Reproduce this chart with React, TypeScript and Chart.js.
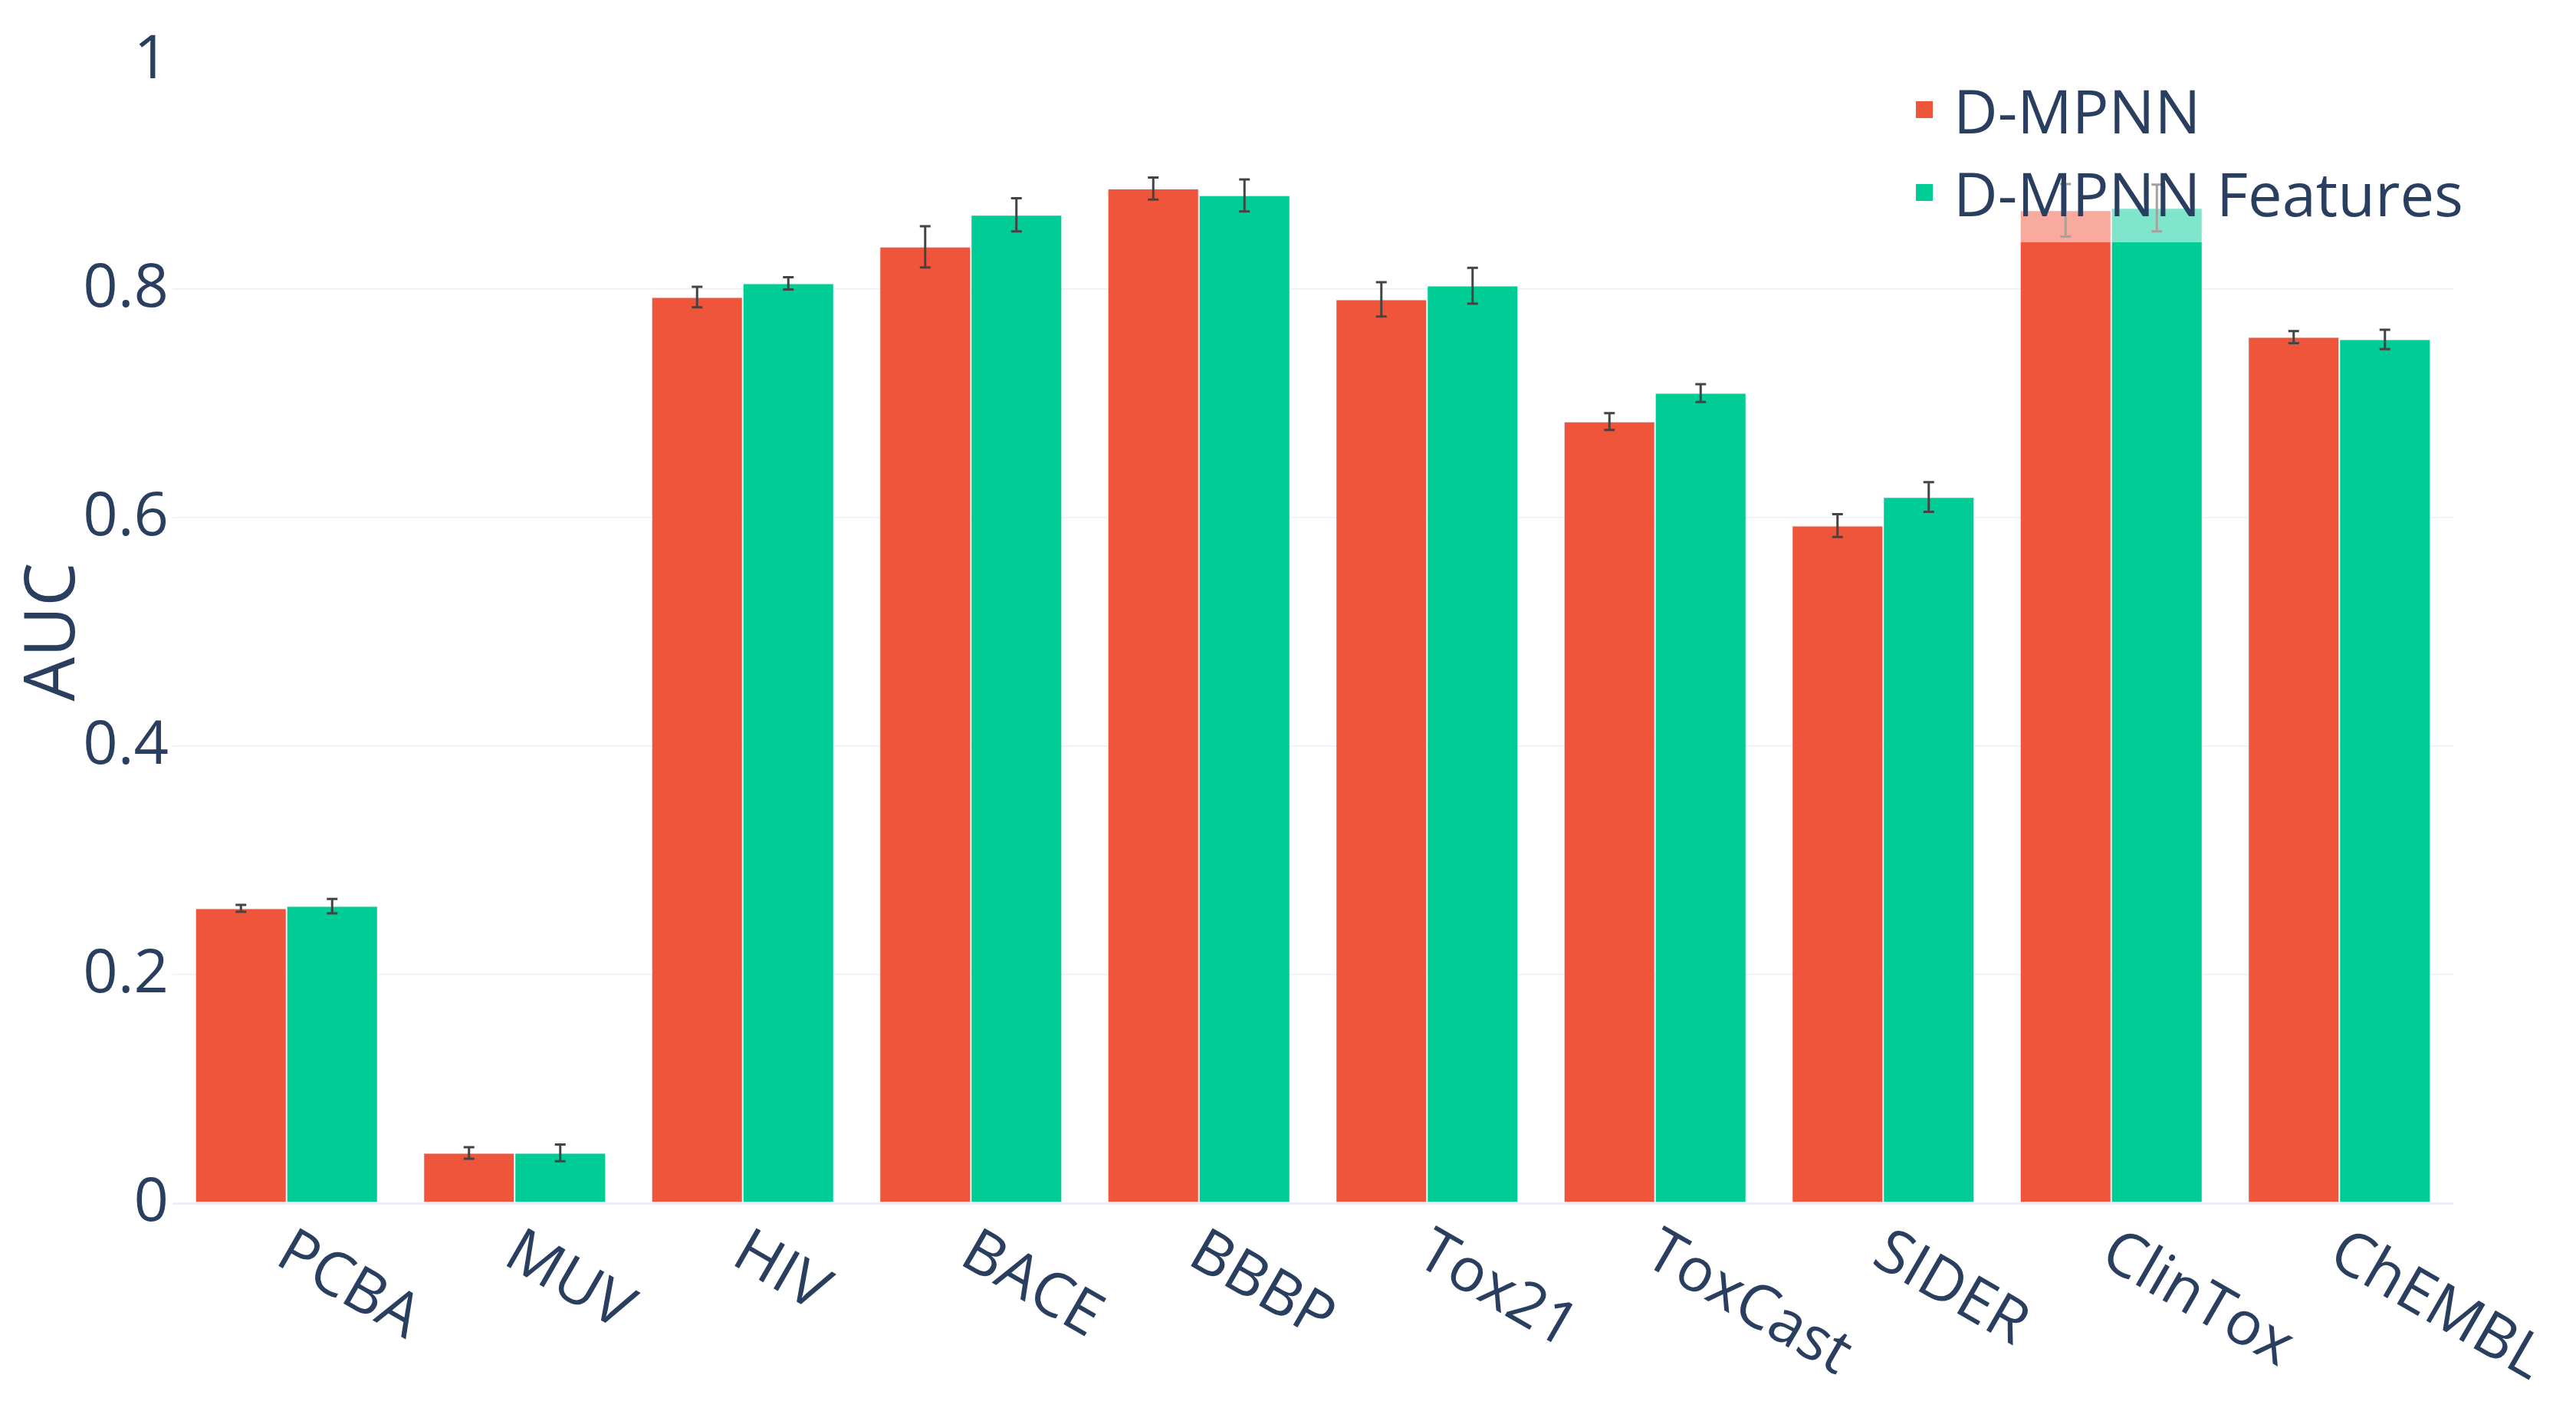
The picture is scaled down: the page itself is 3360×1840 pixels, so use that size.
import { useEffect, useRef } from "react"
import { Chart, registerables, type ChartConfiguration, type Plugin } from "chart.js"

Chart.register(...registerables)

const categories = ["PCBA", "MUV", "HIV", "BACE", "BBBP", "Tox21", "ToxCast", "SIDER", "ClinTox", "ChEMBL"]
const seriesNames = ["D-MPNN", "D-MPNN Features"]
const dmpnn = [0.258, 0.044, 0.793, 0.837, 0.888, 0.791, 0.684, 0.593, 0.869, 0.758]
const dmpnnErr = [0.003, 0.005, 0.009, 0.018, 0.0096, 0.015, 0.0074, 0.010, 0.023, 0.0053]
const dmpnnFeatures = [0.260, 0.044, 0.805, 0.865, 0.882, 0.803, 0.709, 0.618, 0.871, 0.756]
const dmpnnFeaturesErr = [0.0063, 0.0073, 0.0054, 0.0145, 0.014, 0.0157, 0.0078, 0.013, 0.0205, 0.0085]
const yTicks = [0, 0.2, 0.4, 0.6, 0.8, 1]

const FONT = "'Open Sans', sans-serif"
const TEXT = "#2a3f5f"
const COLORS = ["#EF553B", "#00CC96"]
const ERRORS = [dmpnnErr, dmpnnFeaturesErr]
const FONT_SIZE = 79.5

// error bars, drawn on top of the bars
const errorBars: Plugin<"bar"> = {
  id: "errorBars",
  afterDatasetsDraw(chart) {
    const { ctx } = chart
    const y = chart.scales.y
    ctx.save()
    ctx.strokeStyle = "#444444"
    ctx.lineWidth = 3
    chart.data.datasets.forEach((ds, di) => {
      const meta = chart.getDatasetMeta(di)
      meta.data.forEach((bar, i) => {
        const v = ds.data[i] as number
        const e = ERRORS[di][i]
        const top = y.getPixelForValue(v + e)
        const bottom = y.getPixelForValue(v - e)
        const cx = bar.x
        ctx.beginPath()
        ctx.moveTo(cx, top)
        ctx.lineTo(cx, bottom)
        ctx.moveTo(cx - 7, top)
        ctx.lineTo(cx + 7, top)
        ctx.moveTo(cx - 7, bottom)
        ctx.lineTo(cx + 7, bottom)
        ctx.stroke()
      })
    })
    ctx.restore()
  },
}

// rotated category labels, axis title and the legend box
const decorations: Plugin<"bar"> = {
  id: "decorations",
  afterDraw(chart) {
    const { ctx, chartArea } = chart
    const x = chart.scales.x
    ctx.save()
    ctx.fillStyle = TEXT
    ctx.font = `${FONT_SIZE}px ${FONT}`
    ctx.textAlign = "left"
    ctx.textBaseline = "alphabetic"
    categories.forEach((label, i) => {
      ctx.save()
      ctx.translate(x.getPixelForValue(i), chartArea.bottom)
      ctx.rotate(Math.PI / 6)
      ctx.fillText(label, 24, 76)
      ctx.restore()
    })

    ctx.save()
    ctx.font = `91px ${FONT}`
    ctx.textAlign = "center"
    ctx.translate(97, (chartArea.top + chartArea.bottom) / 2)
    ctx.rotate(-Math.PI / 2)
    ctx.fillText("AUC", 0, 0)
    ctx.restore()

    // legend
    ctx.fillStyle = "rgba(255,255,255,0.5)"
    ctx.fillRect(2480, 95, 745, 221)
    ctx.font = `${FONT_SIZE}px ${FONT}`
    seriesNames.forEach((name, i) => {
      const rowY = 143 + i * 108
      ctx.fillStyle = COLORS[i]
      ctx.fillRect(2499, rowY - 11, 22, 22)
      ctx.fillStyle = TEXT
      ctx.fillText(name, 2548, rowY + 31)
    })
    ctx.restore()
  },
}

export default function App() {
  const canvasRef = useRef<HTMLCanvasElement>(null)
  const chartRef = useRef<Chart | null>(null)

  useEffect(() => {
    if (!canvasRef.current) return
    if (chartRef.current) chartRef.current.destroy()

    const config: ChartConfiguration<"bar"> = {
      type: "bar",
      data: {
        labels: categories,
        datasets: [
          {
            label: seriesNames[0],
            data: dmpnn,
            backgroundColor: COLORS[0],
            borderColor: "rgba(229,236,246,0.7)",
            borderWidth: 1,
            categoryPercentage: 0.8,
            barPercentage: 1,
          },
          {
            label: seriesNames[1],
            data: dmpnnFeatures,
            backgroundColor: COLORS[1],
            borderColor: "rgba(229,236,246,0.7)",
            borderWidth: 1,
            categoryPercentage: 0.8,
            barPercentage: 1,
          },
        ],
      },
      options: {
        animation: false,
        responsive: true,
        maintainAspectRatio: false,
        devicePixelRatio: 1,
        layout: { padding: { top: 79, right: 160, left: 0, bottom: 0 } },
        plugins: {
          legend: { display: false },
          tooltip: { enabled: false },
        },
        scales: {
          x: {
            ticks: { display: false },
            grid: { display: false, drawTicks: false },
            border: { display: false },
            afterFit: (scale) => {
              scale.height = 271
            },
          },
          y: {
            min: 0,
            max: 1,
            afterBuildTicks: (scale) => {
              scale.ticks = yTicks.map((value) => ({ value }))
            },
            ticks: {
              color: TEXT,
              font: { family: FONT, size: FONT_SIZE },
              padding: 5,
              callback: (v) => String(v),
            },
            grid: {
              drawTicks: false,
              color: (c) => (c.tick && c.tick.value === 1 ? "rgba(0,0,0,0)" : "#EBF0F8"),
              lineWidth: (c) => (c.tick && c.tick.value === 0 ? 3 : 1.5),
            },
            border: { display: false },
            afterFit: (scale) => {
              scale.width = 225
            },
          },
        },
      },
      plugins: [errorBars, decorations],
    }

    chartRef.current = new Chart(canvasRef.current, config)

    return () => {
      if (chartRef.current) {
        chartRef.current.destroy()
        chartRef.current = null
      }
    }
  }, [])

  return (
    <div style={{ position: "fixed", left: 0, top: 0, width: 3360, height: 1840, background: "#fff" }}>
      <canvas ref={canvasRef} />
    </div>
  )
}
